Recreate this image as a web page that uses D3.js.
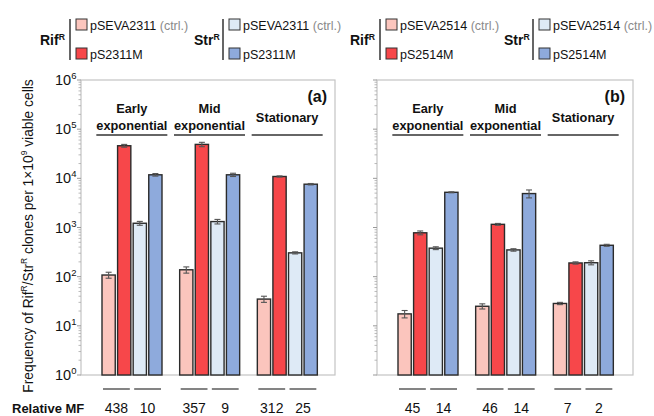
<!DOCTYPE html>
<html>
<head>
<meta charset="utf-8">
<script src="https://cdn.jsdelivr.net/npm/d3@7"></script>
<style>
  body { margin: 0; background: #fff; }
  svg { font-family: "Liberation Sans", Arial, sans-serif; }
</style>
</head>
<body>
<div id="chart"></div>
<script>
var svgWidth = 654;
var svgHeight = 416;

// data
var phases = [["Early", "exponential"], ["Mid", "exponential"], ["Stationary"]];
var panelNames = ["(a)", "(b)"];
var legendA = ["pSEVA2311", "pS2311M", "pSEVA2311", "pS2311M"];
var legendB = ["pSEVA2514", "pS2514M", "pSEVA2514", "pS2514M"];
var colors = ["#fbc5bd", "#f7474a", "#deeaf6", "#8eaadc"];

// per phase: [ctrl RifR, mutant RifR, ctrl StrR, mutant StrR]
var valuesA = [[108, 46000, 1220, 11800], [138, 49000, 1320, 11800], [35, 10900, 305, 7600]];
var errorsA = [[15, 3000, 110, 700], [20, 5000, 140, 900], [5, 300, 15, 250]];
var valuesB = [[17.5, 780, 380, 5200], [25, 1160, 350, 4900], [28.5, 190, 192, 435]];
var errorsB = [[3, 70, 25, 120], [3, 50, 20, 900], [1.5, 10, 18, 20]];
var relMFA = [438, 10, 357, 9, 312, 25];
var relMFB = [45, 14, 46, 14, 7, 2];
var yTicks = [1, 10, 100, 1000, 10000, 100000, 1000000];

var svg = d3.select("#chart")
  .append("svg")
  .attr("width", svgWidth)
  .attr("height", svgHeight);

var plotTop = 80, plotBottom = 375;
var y = d3.scaleLog().domain([1, 1e6]).range([plotBottom, plotTop]);

var panels = [
  { x0: 81, x1: 335, values: valuesA, errors: errorsA, mf: relMFA, name: panelNames[0], legend: legendA, lx: 0 },
  { x0: 377, x1: 633, values: valuesB, errors: errorsB, mf: relMFB, name: panelNames[1], legend: legendB, lx: 310 }
];

var superText = function(sel, base, sup) {
  sel.append("tspan").text(base);
  sel.append("tspan").attr("font-size", "0.62em").attr("dy", "-0.55em").text(sup);
};

panels.forEach(function(p) {
  var g = svg.append("g");

  // frame
  g.append("rect")
    .attr("x", p.x0).attr("y", plotTop)
    .attr("width", p.x1 - p.x0).attr("height", plotBottom - plotTop)
    .attr("fill", "none").attr("stroke", "#c4c4c4").attr("stroke-width", 1.2);

  // log axis with minor ticks
  var minor = [];
  for (var e = 0; e < 6; e++) for (var m = 2; m <= 9; m++) minor.push(m * Math.pow(10, e));
  g.selectAll(".minor").data(minor).enter().append("line")
    .attr("x1", p.x0 - 2.5).attr("x2", p.x0)
    .attr("y1", d => y(d)).attr("y2", d => y(d))
    .attr("stroke", "#aaa").attr("stroke-width", 0.8);
  g.selectAll(".major").data(yTicks).enter().append("line")
    .attr("x1", p.x0 - 4).attr("x2", p.x0)
    .attr("y1", d => y(d)).attr("y2", d => y(d))
    .attr("stroke", "#999").attr("stroke-width", 1);

  var xGroup = d3.scaleBand().domain(d3.range(3)).range([p.x0 + 12, p.x0 + 245]);
  var xBar = d3.scaleBand().domain(d3.range(4)).range([9, 69]).paddingInner(0.15);

  p.values.forEach(function(vals, gi) {
    var gx = xGroup(gi);
    var bars = g.append("g").attr("transform", `translate(${gx},0)`);

    bars.selectAll("rect").data(vals).enter().append("rect")
      .attr("x", (d, i) => xBar(i))
      .attr("y", d => y(d))
      .attr("width", xBar.bandwidth())
      .attr("height", d => plotBottom - y(d))
      .attr("fill", (d, i) => colors[i])
      .attr("stroke", "#2b2b2b").attr("stroke-width", 1.4);

    // error bars
    var errs = p.errors[gi];
    vals.forEach(function(v, i) {
      var cx = xBar(i) + xBar.bandwidth() / 2;
      var lo = y(v - errs[i]), hi = y(v + errs[i]);
      var eg = bars.append("g").attr("stroke", "#555").attr("stroke-width", 1.1);
      eg.append("line").attr("x1", cx).attr("x2", cx).attr("y1", lo).attr("y2", hi);
      eg.append("line").attr("x1", cx - 3).attr("x2", cx + 3).attr("y1", lo).attr("y2", lo);
      eg.append("line").attr("x1", cx - 3).attr("x2", cx + 3).attr("y1", hi).attr("y2", hi);
    });

    // phase label
    var cx = gx + xGroup.bandwidth() / 2;
    var lines = phases[gi];
    lines.forEach(function(t, li) {
      g.append("text")
        .attr("x", cx)
        .attr("y", lines.length === 2 ? 113 + li * 17 : 122)
        .attr("text-anchor", "middle")
        .attr("font-weight", "bold").attr("font-size", "12.8px")
        .attr("fill", "#111")
        .text(t);
    });
    g.append("line")
      .attr("x1", cx - 35.5).attr("x2", cx + 35.5)
      .attr("y1", 135).attr("y2", 135)
      .attr("stroke", "#333").attr("stroke-width", 1.5);

    // relative MF under the Rif and Str pairs
    [0, 1].forEach(function(k) {
      var left = gx + xBar(2 * k) + 1;
      var right = gx + xBar(2 * k + 1) + xBar.bandwidth() - 1;
      g.append("line")
        .attr("x1", left).attr("x2", right)
        .attr("y1", 389).attr("y2", 389)
        .attr("stroke", "#333").attr("stroke-width", 1.2);
      g.append("text")
        .attr("x", (left + right) / 2).attr("y", 413)
        .attr("text-anchor", "middle").attr("font-size", "14px").attr("fill", "#111")
        .text(p.mf[gi * 2 + k]);
    });
  });

  g.append("text")
    .attr("x", p.x1 - 8).attr("y", 102)
    .attr("text-anchor", "end")
    .attr("font-weight", "bold").attr("font-size", "16px").attr("fill", "#111")
    .text(p.name);

  // legend
  var lg = svg.append("g").attr("transform", `translate(${p.lx},0)`);
  [["Rif", 40, 70, 76], ["Str", 194, 223, 229]].forEach(function(res, ri) {
    var t = lg.append("text").attr("x", res[1]).attr("y", 45)
      .attr("font-weight", "bold").attr("font-size", "14px").attr("fill", "#111");
    superText(t, res[0], "R");
    lg.append("line").attr("x1", res[2]).attr("x2", res[2]).attr("y1", 19).attr("y2", 60)
      .attr("stroke", "#333").attr("stroke-width", 1.5);
    [0, 1].forEach(function(k) {
      var idx = ri * 2 + k;
      lg.append("rect")
        .attr("x", res[3]).attr("y", 19 + k * 29)
        .attr("width", 11).attr("height", 11)
        .attr("fill", colors[idx]).attr("stroke", "#333").attr("stroke-width", 1);
      var lt = lg.append("text").attr("x", res[3] + 14).attr("y", 30 + k * 29)
        .attr("font-size", "12.5px").attr("fill", "#111");
      lt.append("tspan").text(p.legend[idx]);
      if (k === 0) lt.append("tspan").attr("fill", "#8a8a8a").text(" (ctrl.)");
    });
  });
});

// y tick labels
svg.selectAll(".ylab").data(yTicks).enter().append("text")
  .attr("x", 55).attr("y", d => y(d) + 5)
  .attr("font-size", "14.5px").attr("fill", "#111")
  .each(function(d) {
    var t = d3.select(this);
    t.append("tspan").text("10");
    t.append("tspan").attr("font-size", "9.5px").attr("dy", "-6")
      .text(Math.round(Math.log10(d)));
  });

// y axis title
var yt = svg.append("text")
  .attr("transform", "translate(33,236) rotate(-90)")
  .attr("text-anchor", "middle")
  .attr("font-size", "13.8px").attr("fill", "#111");
yt.append("tspan").text("Frequency of Rif");
yt.append("tspan").attr("font-size", "8.5px").attr("dy", "-6").text("R");
yt.append("tspan").attr("dy", "6").text("/Str");
yt.append("tspan").attr("font-size", "8.5px").attr("dy", "-6").text("R");
yt.append("tspan").attr("dy", "6").text(" clones per 1\u00d710");
yt.append("tspan").attr("font-size", "8.5px").attr("dy", "-6").text("9");
yt.append("tspan").attr("dy", "6").text(" viable cells");

svg.append("text")
  .attr("x", 12).attr("y", 413)
  .attr("font-weight", "bold").attr("font-size", "13px").attr("fill", "#111")
  .text("Relative MF");
</script>
</body>
</html>
